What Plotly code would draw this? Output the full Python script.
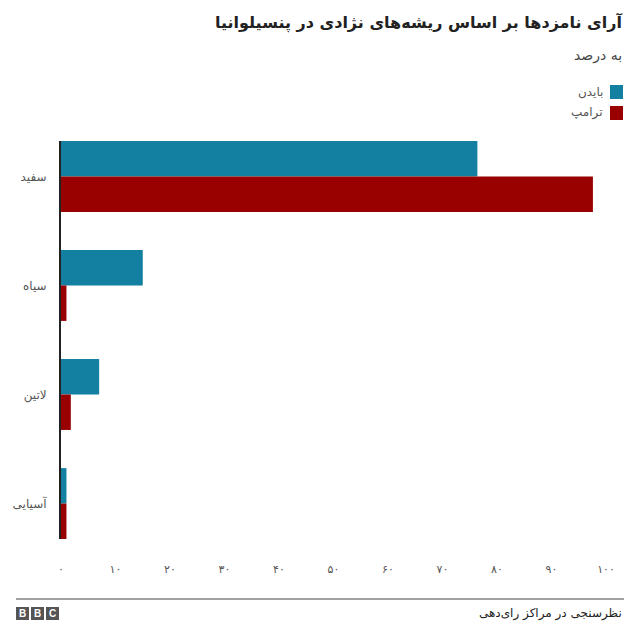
import plotly.graph_objects as go

categories = ["سفید", "سیاه", "لاتین", "آسیایی"]
series_names = ["بایدن", "ترامپ"]
biden = [76.4, 15, 7, 1]
trump = [97.6, 1, 1.8, 1]
tick_vals = [0, 10, 20, 30, 40, 50, 60, 70, 80, 90, 100]
tick_text = ["۰", "۱۰", "۲۰", "۳۰", "۴۰", "۵۰", "۶۰", "۷۰", "۸۰", "۹۰", "۱۰۰"]
title = "آرای نامزدها بر اساس ریشه‌های نژادی در پنسیلوانیا"
subtitle = "به درصد"
source = "نظرسنجی در مراکز رای‌دهی"
colors = ["#1380A1", "#990000"]

W, H = 640, 643
L, R, T, B = 61, 606, 141, 539
FONT = "DejaVu Sans"

def px(x):
    return (x - L) / (R - L)

def py(y):
    return (B - y) / (B - T)

fig = go.Figure()
for name, vals, col in zip(series_names, [biden, trump], colors):
    fig.add_trace(go.Bar(
        y=categories, x=vals, name=name, orientation="h",
        marker=dict(color=col, line=dict(width=0)), showlegend=False,
    ))

fig.update_layout(
    width=W, height=H,
    margin=dict(l=L, r=W - R, t=T, b=H - B, pad=0),
    paper_bgcolor="white", plot_bgcolor="white",
    barmode="group", bargap=0.35, bargroupgap=0,
    font=dict(family=FONT, color="#444"),
    xaxis=dict(range=[0, 100], tickvals=tick_vals, ticktext=tick_text,
               showgrid=False, zeroline=False, showline=False, ticks="",
               tickfont=dict(size=11, color="#555"), ticklabelstandoff=22),
    yaxis=dict(categoryorder="array", categoryarray=categories,
               range=[3.325, -0.325], showgrid=False, zeroline=False,
               showline=True, linecolor="#222", linewidth=2, ticks="",
               tickfont=dict(size=12, color="#555"), ticklabelstandoff=10),
)

annotations = [
    dict(text="<b>" + title + "</b>", x=px(624), y=py(22), xanchor="right", yanchor="middle",
         font=dict(size=16, color="#222")),
    dict(text=subtitle, x=px(624), y=py(55), xanchor="right", yanchor="middle",
         font=dict(size=14, color="#444")),
    dict(text=source, x=px(624), y=py(613), xanchor="right", yanchor="middle",
         font=dict(size=12, color="#222")),
]
shapes = []
for i, (name, col) in enumerate(zip(series_names, colors)):
    yc = 92 + i * 21
    shapes.append(dict(type="rect", xref="paper", yref="paper",
                       x0=px(610), x1=px(623), y0=py(yc - 7), y1=py(yc + 7),
                       fillcolor=col, line=dict(width=0)))
    annotations.append(dict(text=name, x=px(605), y=py(yc), xanchor="right", yanchor="middle",
                            font=dict(size=12, color="#555")))

shapes.append(dict(type="line", xref="paper", yref="paper", x0=px(16), x1=px(624),
                   y0=py(599), y1=py(599), line=dict(color="#444", width=1)))
for i, letter in enumerate("BBC"):
    x0 = 16 + i * 15
    shapes.append(dict(type="rect", xref="paper", yref="paper",
                       x0=px(x0), x1=px(x0 + 13), y0=py(620), y1=py(607),
                       fillcolor="#555", line=dict(width=0)))
    annotations.append(dict(text="<b>" + letter + "</b>", x=px(x0 + 6.5), y=py(613.5),
                            xanchor="center", yanchor="middle", showarrow=False,
                            font=dict(size=10, color="white", family="Liberation Sans")))

for a in annotations:
    a.setdefault("showarrow", False)
    a["xref"] = "paper"
    a["yref"] = "paper"
fig.update_layout(annotations=annotations, shapes=shapes)

fig.write_html("out.html")
